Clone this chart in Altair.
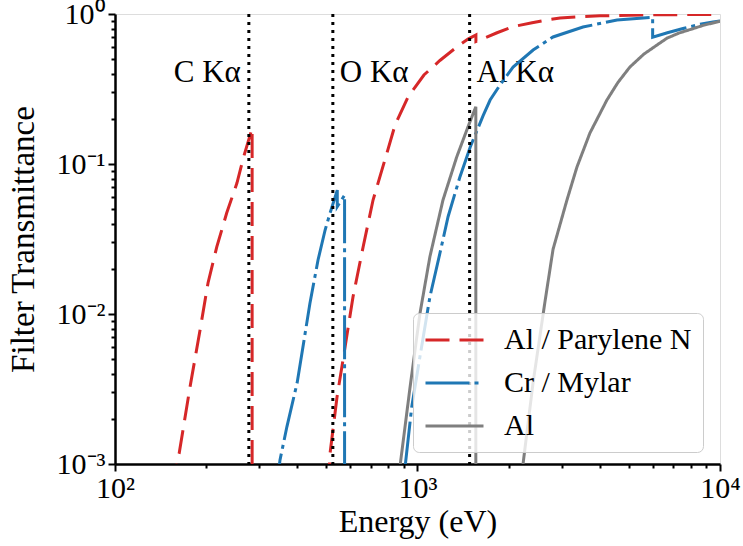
import altair as alt
import pandas as pd

FONT = "Liberation Serif"

# ---- data ----
names = ["Al / Parylene N", "Cr / Mylar", "Al"]
colors = ["#d62728", "#1f77b4", "#7f7f7f"]
dashes = [[24, 10], [44, 5, 4, 5], [1, 0]]

# Al / Parylene N
red_E = [155, 163, 177, 191, 203, 217, 234, 253, 266, 284, 284,
         505, 514, 542, 576, 612, 661, 713, 792, 843, 931, 1050, 1186, 1352, 1469, 1560, 1560,
         1832, 2070, 2393, 2700, 2960, 3500, 4012, 5000, 6000, 8000, 10000]
red_T = [7e-4, 1.18e-3, 3.26e-3, 7.8e-3, 0.0161, 0.028, 0.0471, 0.0747, 0.111, 0.173, 1e-5,
         6e-4, 1.18e-3, 2.8e-3, 6.0e-3, 0.013, 0.028, 0.0575, 0.118, 0.182, 0.28, 0.392, 0.49, 0.605, 0.68, 0.725, 0.655,
         0.75, 0.824, 0.875, 0.915, 0.94, 0.96, 0.972, 0.982, 0.987, 0.991, 0.993]

# Cr / Mylar
blue_E = [340, 351, 370, 400, 418, 441, 469, 495, 514, 543, 543, 574, 574,
          880, 910, 957, 1019, 1099, 1186, 1262, 1381, 1494, 1648, 1738, 1875, 2070, 2411, 2806, 3524,
          4567, 5989, 5989, 6700, 7550, 8500, 9480, 10000]
blue_T = [6e-4, 1.06e-3, 1.77e-3, 3.47e-3, 6.0e-3, 0.0118, 0.0229, 0.0363, 0.0471, 0.067, 0.052, 0.062, 1e-5,
          4e-4, 9.6e-4, 2.4e-3, 5.2e-3, 0.013, 0.0254, 0.0445, 0.082, 0.13, 0.21, 0.267, 0.337, 0.443, 0.575, 0.703, 0.819,
          0.912, 0.95, 0.70, 0.75, 0.80, 0.85, 0.885, 0.90]

# Al
gray_E = [850, 875, 944, 1019, 1099, 1214, 1349, 1469, 1559, 1559,
          2150, 2233, 2411, 2644, 2806, 3119, 3366, 3716, 4228, 4600, 5036, 5600, 6331, 6680,
          7300, 7960, 8800, 10000]
gray_T = [5e-4, 9.6e-4, 3.2e-3, 0.0101, 0.0241, 0.0575, 0.112, 0.177, 0.241, 1e-5,
          4e-4, 1e-3, 3.5e-3, 0.0124, 0.027, 0.0575, 0.0955, 0.161, 0.267, 0.35, 0.443, 0.54, 0.641, 0.69,
          0.745, 0.787, 0.84, 0.895]

line_names = ["C Kα", "O Kα", "Al Kα"]
line_E = [277, 525, 1487]
LABEL_T = 0.35

x_major = [100, 1000, 10000]
x_major_labels = ["10²", "10³", "10⁴"]
x_ticks = [100, 200, 300, 400, 500, 600, 700, 800, 900,
           1000, 2000, 3000, 4000, 5000, 6000, 7000, 8000, 9000, 10000]
y_major = [0.001, 0.01, 0.1, 1]
y_major_labels = ["10⁻³", "10⁻²", "10⁻¹", "10⁰"]
y_ticks = [0.001, 0.002, 0.003, 0.004, 0.005, 0.006, 0.007, 0.008, 0.009,
           0.01, 0.02, 0.03, 0.04, 0.05, 0.06, 0.07, 0.08, 0.09,
           0.1, 0.2, 0.3, 0.4, 0.5, 0.6, 0.7, 0.8, 0.9, 1]

# ---- tables ----
rows = []
for name, Es, Ts in zip(names, [red_E, blue_E, gray_E], [red_T, blue_T, gray_T]):
    for i, (e, t) in enumerate(zip(Es, Ts)):
        rows.append({"series": name, "E": e, "T": t, "i": i})
df = pd.DataFrame(rows)
ann = pd.DataFrame({"name": line_names, "E": line_E, "T": [LABEL_T] * len(line_E)})


def label_expr(vals, labels):
    return " : ".join(f"datum.value == {v} ? '{l}'" for v, l in zip(vals, labels)) + " : ''"


def minor_dash(vals):
    test = "indexof([" + ",".join(str(v) for v in vals) + "], datum.value) < 0"
    return {"condition": {"test": test, "value": [4, 20]}, "value": [10, 0]}


common_axis = dict(labelOverlap=False, tickSize=7, tickWidth=2, tickColor="black",
                   labelFont=FONT, labelFontSize=30, labelColor="black",
                   titleFont=FONT, titleFontWeight="normal",
                   titleColor="black", grid=False, domainColor="black", domainWidth=2.5,
                   labelFlush=False)

x_axis = alt.Axis(values=x_ticks, labelExpr=label_expr(x_major, x_major_labels),
                  tickDash=minor_dash(x_major), labelPadding=2, titleFontSize=32,
                  title="Energy (eV)", titleBaseline="alphabetic", titleY=67, **common_axis)
y_axis = alt.Axis(values=y_ticks, labelExpr=label_expr(y_major, y_major_labels),
                  tickDash=minor_dash(y_major), labelPadding=3, titleFontSize=33,
                  title="Filter Transmittance", titleBaseline="alphabetic", titleX=-82, **common_axis)

x_scale = alt.Scale(type="log", domain=[100, 10000], nice=False)
y_scale = alt.Scale(type="log", domain=[0.001, 1], nice=False)

X = alt.X("E:Q", scale=x_scale, axis=x_axis)
Y = alt.Y("T:Q", scale=y_scale, axis=y_axis)

legend = alt.Legend(title=None, orient="none", legendX=298, legendY=299,
                    fillColor="rgba(255,255,255,0.8)", strokeColor="#cccccc",
                    cornerRadius=6, padding=11, symbolType="M-1,0H3", symbolSize=841,
                    symbolStrokeWidth=3, labelFont=FONT, labelFontSize=30, labelLimit=0,
                    labelColor="black", labelOffset=48, rowPadding=12)

lines = alt.Chart(df).mark_line(strokeWidth=3, clip=True, strokeCap="butt").encode(
    x=X, y=Y,
    color=alt.Color("series:N", scale=alt.Scale(domain=names, range=colors), legend=legend),
    strokeDash=alt.StrokeDash("series:N", scale=alt.Scale(domain=names, range=dashes), legend=legend),
    order=alt.Order("i:Q"),
)

rules = alt.Chart(ann).mark_rule(color="black", strokeWidth=3, strokeDash=[3, 5]).encode(x=X)

text_left = alt.Chart(ann[ann["name"] == "C Kα"]).mark_text(
    align="right", baseline="alphabetic", dx=-8, font=FONT, fontSize=31, color="black"
).encode(x=X, y=Y, text="name:N")
text_right = alt.Chart(ann[ann["name"] != "C Kα"]).mark_text(
    align="left", baseline="alphabetic", dx=7, font=FONT, fontSize=31, color="black"
).encode(x=X, y=Y, text="name:N")

chart = alt.layer(text_left, text_right, lines, rules).properties(
    width=605, height=450,
    autosize=alt.AutoSizeParams(type="none"),
    padding={"left": 115, "top": 14, "right": 23, "bottom": 82},
).configure_view(stroke="black", strokeWidth=2.5).configure(background="white")

chart.save("out.html", embed_options={"renderer": "svg", "actions": False})
